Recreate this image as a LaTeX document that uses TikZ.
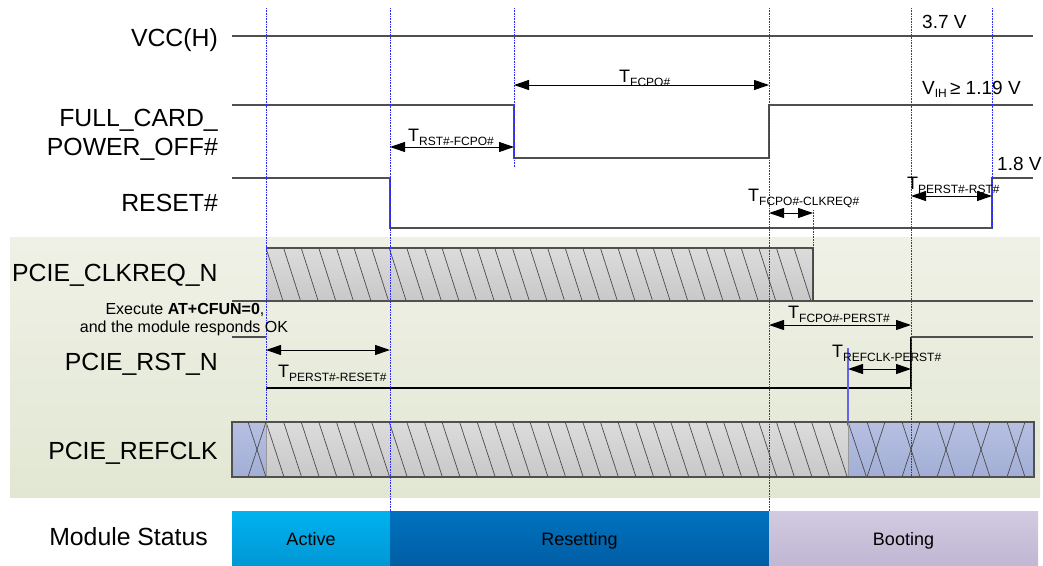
\documentclass[tikz,border=0pt]{standalone}
\usepackage{fontspec}
\setmainfont{Liberation Sans}
\usetikzlibrary{arrows.meta}
\definecolor{sigc}{RGB}{80,80,80}
\definecolor{bgtop}{RGB}{239,241,230}
\definecolor{bgbot}{RGB}{226,231,211}
\definecolor{graytop}{RGB}{220,220,220}
\definecolor{graybot}{RGB}{200,200,200}
\definecolor{bluetop}{RGB}{183,192,226}
\definecolor{bluebot}{RGB}{162,174,214}
\definecolor{acttop}{RGB}{0,178,240}
\definecolor{actbot}{RGB}{0,152,212}
\definecolor{restop}{RGB}{0,114,192}
\definecolor{resbot}{RGB}{0,94,164}
\definecolor{boottop}{RGB}{210,202,224}
\definecolor{bootbot}{RGB}{192,184,212}
\definecolor{guideblue}{RGB}{40,40,255}
\definecolor{refblue}{RGB}{100,100,240}
\newcommand{\Tsub}[1]{\fontsize{18}{18}\selectfont T\raisebox{-4pt}{\fontsize{12}{12}\selectfont #1}}
\begin{document}
\begin{tikzpicture}[x=1pt,y=-1pt,
  sigline/.style={draw=sigc, line width=1.1pt},
  hatchline/.style={draw=black!70, line width=0.7pt},
  vguide/.style={draw=guideblue, line width=0.7pt, dash pattern=on 0.8pt off 0.8pt},
  dimarrow/.style={{Triangle[length=15pt,width=10pt]}-{Triangle[length=15pt,width=10pt]}, line width=1pt, black},
  biglabel/.style={font=\fontsize{24.8}{28}\selectfont, inner sep=0pt},
  tlabel/.style={inner sep=0pt, anchor=base west},
  volt/.style={font=\fontsize{19}{22}\selectfont, inner sep=0pt, anchor=base west},
  smalltext/.style={font=\fontsize{16}{18}\selectfont, inner sep=0pt, anchor=base},
  statustext/.style={font=\fontsize{18}{20}\selectfont, inner sep=0pt, anchor=base}]
\useasboundingbox (0,0) rectangle (1043,565);

% green background
\shade[top color=bgtop, bottom color=bgbot] (10,237) rectangle (1040,497);

% status bars
\shade[top color=acttop, bottom color=actbot] (232,511) rectangle (390,565);
\shade[top color=restop, bottom color=resbot] (390,511) rectangle (769,565);
\shade[top color=boottop, bottom color=bootbot] (769,511) rectangle (1038,565);

% VCC(H)
\draw[sigline] (232,36) -- (1033,36);
% FULL_CARD_POWER_OFF#
\draw[sigline] (232,105) -- (514,105) -- (514,158) -- (769,158) -- (769,105) -- (1033,105);
% RESET#
\draw[sigline] (232,178) -- (390,178) -- (390,228) -- (992,228) -- (992,178) -- (1033,178);

% PCIE_CLKREQ_N
\shade[top color=graytop, bottom color=graybot] (266,248) rectangle (813,301);
\begin{scope}
  \clip (266,248) rectangle (813,301);
  \foreach \i in {-1,...,31} \draw[hatchline] (266+\i*17.6,248) -- ++(17,53);
\end{scope}
\draw[sigline] (232,301) -- (1033,301);
\draw[sigline] (266,248) -- (813,248) -- (813,301);

% PCIE_RST_N
\draw[sigline] (232,337) -- (266,337);
\draw[line width=1.1pt, black] (266,388) -- (911,388) -- (911,337);
\draw[sigline] (911,337) -- (1033,337);

% PCIE_REFCLK
\shade[top color=bluetop, bottom color=bluebot] (232,422) rectangle (266,477);
\shade[top color=graytop, bottom color=graybot] (266,422) rectangle (848,477);
\shade[top color=bluetop, bottom color=bluebot] (848,422) rectangle (1034,477);
\begin{scope}
  \clip (266,422) rectangle (848,477);
  \foreach \i in {-1,...,33} \draw[hatchline] (266+\i*17.6,422) -- ++(18,55);
\end{scope}
\draw[hatchline] (248,422) -- (266,477);
\draw[hatchline] (266,422) -- (248,477);
\draw[hatchline] (848,422) -- (866.5,477);
\foreach \c in {876,911,946,981,1016} {
  \draw[hatchline] (\c-9,422) -- (\c+9,477);
  \draw[hatchline] (\c+9,422) -- (\c-9,477);
}
\draw[black!40, line width=0.8pt] (266,422) -- (266,477);
\draw[black!40, line width=0.8pt] (848,422) -- (848,477);
\draw[sigline] (232,422) rectangle (1034,477);

% blue REFCLK marker
\draw[refblue, line width=1.6pt] (848,348) -- (848,422);

% vertical guides
\draw[vguide] (266,8) -- (266,422);
\draw[vguide] (390,8) -- (390,511);
\draw[vguide] (514,8) -- (514,168);
\draw[vguide] (769,8) -- (769,511);
\draw[vguide] (813,210) -- (813,301);
\draw[vguide] (911,8) -- (911,478);
\draw[vguide] (992,8) -- (992,228);

% timing arrows
\draw[dimarrow] (514,85) -- (769,85);
\draw[dimarrow] (390,147) -- (514,147);
\draw[dimarrow] (769,213) -- (813,213);
\draw[dimarrow] (911,196) -- (992,196);
\draw[dimarrow] (769,325) -- (911,325);
\draw[dimarrow] (848,369) -- (911,369);
\draw[dimarrow] (266,350) -- (390,350);

% timing labels
\node[tlabel] (tfcpo) at (619,82) {\Tsub{FCPO\#}};
\node[tlabel] (trst) at (408,141) {\Tsub{RST\#-FCPO\#}};
\node[tlabel] (tclk) at (748,201) {\Tsub{FCPO\#-CLKREQ\#}};
\node[tlabel] (tperrst) at (907,189) {\Tsub{PERST\#-RST\#}};
\node[tlabel] (tfcpoperst) at (788,318) {\Tsub{FCPO\#-PERST\#}};
\node[tlabel] (tref) at (832,357) {\Tsub{REFCLK-PERST\#}};
\node[tlabel] (tperreset) at (278,377) {\Tsub{PERST\#-RESET\#}};

% voltage labels
\node[volt] (v37) at (922,28) {3.7 V};
\node[volt] (vih) at (922,94.5) {V\raisebox{-3pt}{\fontsize{12}{12}\selectfont IH}\,≥ 1.19 V};
\node[volt] (v18) at (997,170) {1.8 V};

% signal names
\node[biglabel, anchor=base east] (lvcc) at (218,46.5) {VCC(H)};
\node[biglabel, anchor=base east] (lfc1) at (218,126.5) {FULL\_CARD\_};
\node[biglabel, anchor=base east] (lfc2) at (218,155) {POWER\_OFF\#};
\node[biglabel, anchor=base east] (lrst) at (218,211.5) {RESET\#};
\node[biglabel, anchor=base west] (lclk) at (12,281.5) {PCIE\_CLKREQ\_N};
\node[biglabel, anchor=base east] (lprst) at (218,370) {PCIE\_RST\_N};
\node[biglabel, anchor=base east] (lref) at (218,459) {PCIE\_REFCLK};
\node[biglabel, anchor=base east] (lms) at (208,545) {Module Status};

% note
\node[smalltext] (ex1) at (185,314) {Execute \textbf{AT+CFUN=0},};
\node[smalltext] (ex2) at (184,332) {and the module responds OK};

% status texts
\node[statustext] (sact) at (311,545) {Active};
\node[statustext] (sres) at (579.5,545) {Resetting};
\node[statustext] (sboot) at (903.5,545) {Booting};
\end{tikzpicture}
\end{document}
